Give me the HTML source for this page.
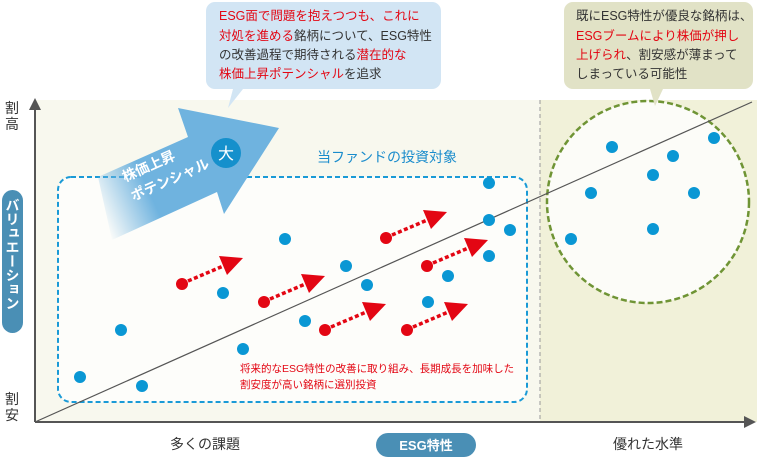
<!DOCTYPE html>
<html><head><meta charset="utf-8"><style>
html,body{margin:0;padding:0;background:#fff;}
svg{display:block;font-family:"Liberation Sans","Noto Sans CJK JP",sans-serif;}
</style></head><body>
<svg width="757" height="458" viewBox="0 0 757 458" xmlns="http://www.w3.org/2000/svg">
<defs>
<linearGradient id="fade" gradientUnits="userSpaceOnUse" x1="100" y1="215" x2="150" y2="193">
<stop offset="0" stop-color="#6fb3df" stop-opacity="0"/>
<stop offset="1" stop-color="#6fb3df" stop-opacity="1"/>
</linearGradient>
</defs>
<rect x="35" y="100" width="505" height="322" fill="#f8f8ee"/>
<rect x="540" y="100" width="217" height="322" fill="#f1f1d9"/>
<line x1="540" y1="100" x2="540" y2="422" stroke="#999" stroke-width="1" stroke-dasharray="4,3"/>
<rect x="58" y="177" width="469" height="225" rx="13" fill="#fdfdfa" stroke="#1a9ad6" stroke-width="2" stroke-dasharray="5,3"/>
<circle cx="648" cy="202" r="101" fill="#fcfcf8" stroke="#6f9435" stroke-width="2.5" stroke-dasharray="6,3"/>
<line x1="35" y1="422" x2="752" y2="102" stroke="#555" stroke-width="1.2"/>
<line x1="35" y1="422" x2="35" y2="108" stroke="#555" stroke-width="2"/>
<polygon points="35,98 29,110 41,110" fill="#555"/>
<line x1="35" y1="422" x2="746" y2="422" stroke="#555" stroke-width="2"/>
<polygon points="756,422 744,416 744,428" fill="#555"/>
<polygon points="98,177 188,137 178,108 279,128 224,214 217,192 112,240" fill="url(#fade)"/>
<circle cx="226" cy="153" r="15" fill="#1590cc"/>
<text x="226" y="159" font-size="16" fill="#fff" text-anchor="middle">大</text>
<g transform="translate(125,182) rotate(-24)" fill="#fff" font-size="14" font-weight="bold">
<text x="0" y="0">株価上昇</text>
<text x="0" y="21">ポテンシャル</text>
</g>
<text x="387" y="162" font-size="14" fill="#1a8ccc" text-anchor="middle">当ファンドの投資対象</text>
<g stroke="#e30613" stroke-width="3.5" stroke-dasharray="4,2.5" fill="none">
<line x1="188" y1="281" x2="228" y2="264"/>
<line x1="270" y1="299" x2="310" y2="282"/>
<line x1="331" y1="327" x2="371" y2="310"/>
<line x1="392" y1="235" x2="432" y2="218"/>
<line x1="433" y1="263" x2="473" y2="246"/>
<line x1="413" y1="327" x2="453" y2="310"/>
</g>
<g fill="#e30613">
<polygon points="243,258 219,256 227,275"/>
<polygon points="325,276 301,274 309,293"/>
<polygon points="386,304 362,302 370,321"/>
<polygon points="447,212 423,210 431,229"/>
<polygon points="488,240 464,238 472,257"/>
<polygon points="468,304 444,302 452,321"/>
<circle cx="182" cy="284" r="6"/><circle cx="264" cy="302" r="6"/><circle cx="325" cy="330" r="6"/>
<circle cx="386" cy="238" r="6"/><circle cx="427" cy="266" r="6"/><circle cx="407" cy="330" r="6"/>
</g>
<g fill="#0a97d4">
<circle cx="80" cy="377" r="6"/><circle cx="142" cy="386" r="6"/><circle cx="121" cy="330" r="6"/>
<circle cx="243" cy="349" r="6"/><circle cx="223" cy="293" r="6"/><circle cx="285" cy="239" r="6"/>
<circle cx="305" cy="321" r="6"/><circle cx="346" cy="266" r="6"/><circle cx="367" cy="285" r="6"/>
<circle cx="428" cy="302" r="6"/><circle cx="448" cy="276" r="6"/><circle cx="489" cy="183" r="6"/>
<circle cx="489" cy="220" r="6"/><circle cx="510" cy="230" r="6"/><circle cx="489" cy="256" r="6"/>
<circle cx="612" cy="147" r="6"/><circle cx="673" cy="156" r="6"/><circle cx="714" cy="138" r="6"/>
<circle cx="653" cy="175" r="6"/><circle cx="591" cy="193" r="6"/><circle cx="694" cy="193" r="6"/>
<circle cx="571" cy="239" r="6"/><circle cx="653" cy="229" r="6"/>
</g>
<g font-size="10.5" fill="#e30613">
<text x="240" y="372">将来的なESG特性の改善に取り組み、長期成長を加味した</text>
<text x="240" y="388">割安度が高い銘柄に選別投資</text>
</g>
<path d="M215,2 H432 a9,9 0 0 1 9,9 V80 a9,9 0 0 1 -9,9 H243 L228,108 L233,89 H215 a9,9 0 0 1 -9,-9 V11 a9,9 0 0 1 9,-9 Z" fill="#d2e5f4"/>
<g font-size="12.5" fill="#333">
<text x="219" y="20"><tspan fill="#e30613">ESG面で問題を抱えつつも、これに</tspan></text>
<text x="219" y="40"><tspan fill="#e30613">対処を進める</tspan>銘柄について、ESG特性</text>
<text x="219" y="59">の改善過程で期待される<tspan fill="#e30613">潜在的な</tspan></text>
<text x="219" y="78"><tspan fill="#e30613">株価上昇ポテンシャル</tspan>を追求</text>
</g>
<path d="M573,2 H744 a9,9 0 0 1 9,9 V80 a9,9 0 0 1 -9,9 H663 L655,106 L650,89 H573 a9,9 0 0 1 -9,-9 V11 a9,9 0 0 1 9,-9 Z" fill="#e1e2c6"/>
<g font-size="12.5" fill="#333">
<text x="576" y="20">既にESG特性が優良な銘柄は、</text>
<text x="576" y="40"><tspan fill="#e30613">ESGブームにより株価が押し</tspan></text>
<text x="576" y="59"><tspan fill="#e30613">上げられ</tspan>、割安感が薄まって</text>
<text x="576" y="78">しまっている可能性</text>
</g>
<g font-size="14" fill="#333" text-anchor="middle">
<text x="12" y="113">割</text><text x="12" y="129">高</text>
<text x="12" y="404">割</text><text x="12" y="420">安</text>
</g>
<rect x="2" y="190" width="21" height="143" rx="10.5" fill="#4a8fb5"/>
<text x="12.5" y="198" font-size="14" font-weight="bold" fill="#fff" style="writing-mode:vertical-rl" text-anchor="start">バリュエーション</text>
<text x="205" y="449" font-size="14" fill="#333" text-anchor="middle">多くの課題</text>
<rect x="376" y="433" width="100" height="24" rx="12" fill="#4a8fb5"/>
<text x="426" y="450" font-size="13" font-weight="bold" fill="#fff" text-anchor="middle">ESG特性</text>
<text x="648" y="449" font-size="14" fill="#333" text-anchor="middle">優れた水準</text>
</svg>
</body></html>
